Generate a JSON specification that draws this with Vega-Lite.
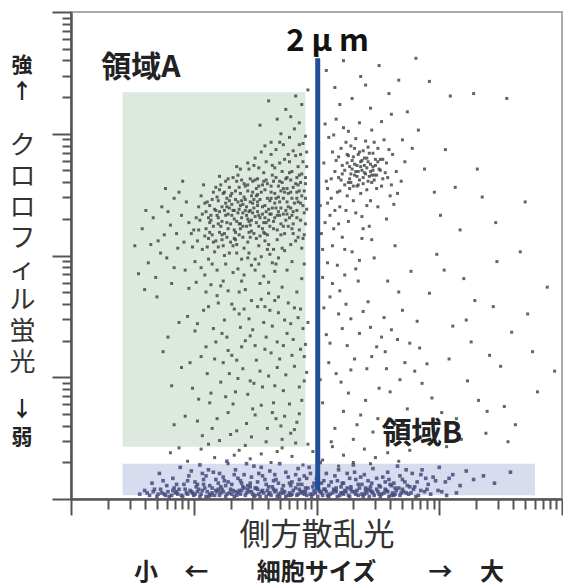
{
  "$schema": "https://vega.github.io/schema/vega-lite/v6.json",
  "width": 491,
  "height": 487,
  "autosize": {"type": "none"},
  "padding": {"left": 71, "top": 12, "right": 1, "bottom": 87},
  "config": {
    "view": {"stroke": "#aaaaaa", "strokeWidth": 2},
    "font": "Noto Sans CJK JP"
  },
  "datasets": {
    "regions": [
      {"region": "A", "x": 0.42, "x2": 1.91, "y": 0.43, "y2": 3.34},
      {"region": "B", "x": 0.42, "x2": 3.78, "y": 0.03, "y2": 0.29}
    ],
    "gate": [{"x": 2.01, "y": 0.07, "y2": 3.62}],
    "regionLabels": [
      {"label": "領域A", "x": 0.57, "y": 3.54},
      {"label": "領域B", "x": 2.86, "y": 0.53}
    ],
    "sizeLabel": [{"label": "2 μ m", "x": 2.09, "y": 3.75}],
    "yHints": [
      {"label": "強", "x": -0.4, "y": 3.56},
      {"label": "↑", "x": -0.4, "y": 3.34},
      {"label": "↓", "x": -0.4, "y": 0.73},
      {"label": "弱", "x": -0.4, "y": 0.5}
    ],
    "xHints": [
      {"label": "小", "x": 0.61, "y": -0.61},
      {"label": "←", "x": 1.02, "y": -0.61},
      {"label": "細胞サイズ", "x": 2.0, "y": -0.61},
      {"label": "→", "x": 3.01, "y": -0.61},
      {"label": "大", "x": 3.43, "y": -0.61}
    ],
    "cells": [
      {"x":1.02,"y":2.31},{"x":1.11,"y":2.44},{"x":1.18,"y":2.12},{"x":1.25,"y":2.37},{"x":1.33,"y":2.21},{"x":1.41,"y":2.48},{"x":1.47,"y":2.29},{"x":1.52,"y":2.63},{"x":1.58,"y":2.41},{"x":1.66,"y":2.72},
      {"x":1.73,"y":2.55},{"x":1.81,"y":2.86},{"x":1.88,"y":2.67},{"x":1.07,"y":2.05},{"x":1.15,"y":1.93},{"x":1.22,"y":2.58},{"x":1.29,"y":2.02},{"x":1.36,"y":2.66},{"x":1.44,"y":2.11},{"x":1.50,"y":1.88},
      {"x":1.57,"y":2.19},{"x":1.63,"y":2.34},{"x":1.70,"y":2.93},{"x":1.77,"y":2.24},{"x":1.84,"y":2.47},{"x":1.91,"y":2.98},{"x":0.98,"y":2.18},{"x":1.04,"y":2.40},{"x":1.13,"y":2.27},{"x":1.20,"y":2.45},
      {"x":1.27,"y":2.15},{"x":1.34,"y":2.53},{"x":1.39,"y":1.97},{"x":1.46,"y":2.37},{"x":1.53,"y":2.08},{"x":1.60,"y":2.59},{"x":1.68,"y":2.13},{"x":1.74,"y":2.79},{"x":1.80,"y":2.33},{"x":1.86,"y":2.91},
      {"x":1.09,"y":1.84},{"x":1.16,"y":2.52},{"x":1.24,"y":1.79},{"x":1.31,"y":2.42},{"x":1.38,"y":2.26},{"x":1.45,"y":2.71},{"x":1.49,"y":2.18},{"x":1.55,"y":2.85},{"x":1.62,"y":2.01},{"x":1.69,"y":2.48},
      {"x":1.76,"y":2.64},{"x":1.83,"y":2.12},{"x":1.89,"y":2.41},{"x":0.96,"y":2.27},{"x":1.01,"y":1.95},{"x":1.06,"y":2.49},{"x":1.12,"y":2.14},{"x":1.19,"y":2.33},{"x":1.26,"y":2.61},{"x":1.32,"y":1.86},
      {"x":1.37,"y":2.38},{"x":1.43,"y":2.24},{"x":1.48,"y":2.52},{"x":1.54,"y":2.31},{"x":1.59,"y":2.77},{"x":1.65,"y":2.22},{"x":1.71,"y":2.39},{"x":1.78,"y":2.97},{"x":1.85,"y":2.58},{"x":1.90,"y":2.17},
      {"x":1.03,"y":2.12},{"x":1.10,"y":2.36},{"x":1.17,"y":2.03},{"x":1.23,"y":2.28},{"x":1.30,"y":2.49},{"x":1.35,"y":2.09},{"x":1.42,"y":2.57},{"x":1.47,"y":1.92},{"x":1.54,"y":2.46},{"x":1.61,"y":2.29},
      {"x":1.67,"y":2.87},{"x":1.72,"y":2.06},{"x":1.79,"y":2.52},{"x":1.87,"y":2.29},{"x":1.92,"y":2.73},{"x":1.00,"y":2.21},{"x":1.08,"y":2.58},{"x":1.14,"y":1.76},{"x":1.21,"y":2.19},{"x":1.28,"y":2.34},
      {"x":1.35,"y":2.73},{"x":1.40,"y":2.15},{"x":1.46,"y":2.44},{"x":1.51,"y":2.27},{"x":1.57,"y":2.68},{"x":1.64,"y":1.94},{"x":1.70,"y":2.61},{"x":1.75,"y":2.37},{"x":1.82,"y":3.04},{"x":1.88,"y":2.06},
      {"x":1.13,"y":2.41},{"x":1.19,"y":1.88},{"x":1.27,"y":2.47},{"x":1.33,"y":2.30},{"x":1.39,"y":2.62},{"x":1.45,"y":2.02},{"x":1.52,"y":2.36},{"x":1.58,"y":2.12},{"x":1.64,"y":2.66},{"x":1.71,"y":2.26},
      {"x":1.77,"y":2.83},{"x":1.84,"y":2.37},{"x":1.90,"y":2.53},{"x":1.05,"y":2.29},{"x":1.11,"y":2.07},{"x":1.18,"y":2.56},{"x":1.24,"y":2.08},{"x":1.30,"y":2.26},{"x":1.37,"y":2.17},{"x":1.43,"y":2.33},
      {"x":1.49,"y":2.74},{"x":1.55,"y":1.99},{"x":1.62,"y":2.45},{"x":1.68,"y":2.33},{"x":1.74,"y":2.18},{"x":1.80,"y":2.69},{"x":1.87,"y":2.83},{"x":1.26,"y":1.93},{"x":1.32,"y":2.64},{"x":1.41,"y":1.84},
      {"x":1.48,"y":2.61},{"x":1.56,"y":2.22},{"x":1.63,"y":2.83},{"x":1.69,"y":1.98},{"x":1.76,"y":2.44},{"x":1.83,"y":2.59},{"x":1.91,"y":2.26},{"x":1.20,"y":2.31},{"x":1.29,"y":2.56},{"x":1.36,"y":2.44},
      {"x":1.44,"y":2.53},{"x":1.51,"y":2.14},{"x":1.59,"y":2.36},{"x":1.66,"y":2.51},{"x":1.73,"y":2.91},{"x":1.81,"y":2.18},{"x":1.86,"y":3.09},{"x":1.16,"y":2.24},{"x":1.23,"y":2.40},{"x":1.34,"y":2.13},
      {"x":1.40,"y":2.35},{"x":1.47,"y":2.20},{"x":1.53,"y":2.72},{"x":1.60,"y":2.17},{"x":1.67,"y":2.39},{"x":1.73,"y":2.47},{"x":1.79,"y":2.09},{"x":1.85,"y":2.73},{"x":1.92,"y":2.38},{"x":1.09,"y":2.16},
      {"x":0.99,"y":2.07},{"x":1.06,"y":1.90},{"x":1.14,"y":2.33},{"x":1.21,"y":2.65},{"x":1.38,"y":2.51},{"x":1.45,"y":2.28},{"x":1.56,"y":2.58},{"x":1.65,"y":2.05},{"x":1.78,"y":2.31},{"x":1.89,"y":2.92},
      {"x":1.28,"y":1.71},{"x":1.36,"y":1.89},{"x":1.42,"y":1.72},{"x":1.50,"y":1.97},{"x":1.57,"y":1.83},{"x":1.66,"y":1.87},{"x":1.72,"y":1.74},{"x":1.80,"y":1.95},{"x":1.88,"y":1.81},{"x":1.61,"y":1.69},
      {"x":1.12,"y":1.97},{"x":1.25,"y":2.00},{"x":1.19,"y":1.67},{"x":1.31,"y":1.60},{"x":1.47,"y":1.63},{"x":1.54,"y":1.77},{"x":1.69,"y":1.66},{"x":1.84,"y":1.70},{"x":1.90,"y":1.93},{"x":1.76,"y":1.88},
      {"x":1.02,"y":1.78},{"x":1.10,"y":1.70},{"x":1.39,"y":1.79},{"x":1.58,"y":1.58},{"x":1.82,"y":1.57},{"x":1.71,"y":3.00},{"x":1.63,"y":2.93},{"x":1.58,"y":2.90},{"x":1.50,"y":2.80},{"x":1.44,"y":2.76},
      {"x":1.14,"y":2.29},{"x":1.19,"y":2.48},{"x":1.23,"y":2.17},{"x":1.26,"y":2.33},{"x":1.31,"y":2.51},{"x":1.34,"y":2.19},{"x":1.38,"y":2.41},{"x":1.41,"y":2.06},{"x":1.44,"y":2.58},{"x":1.48,"y":2.35},
      {"x":1.51,"y":2.49},{"x":1.54,"y":2.16},{"x":1.58,"y":2.54},{"x":1.61,"y":2.38},{"x":1.65,"y":2.61},{"x":1.68,"y":2.21},{"x":1.72,"y":2.69},{"x":1.75,"y":2.29},{"x":1.79,"y":2.62},{"x":1.82,"y":2.43},
      {"x":1.86,"y":2.21},{"x":1.89,"y":2.77},{"x":1.27,"y":2.40},{"x":1.33,"y":2.37},{"x":1.39,"y":2.31},{"x":1.46,"y":2.63},{"x":1.52,"y":2.44},{"x":1.57,"y":2.27},{"x":1.63,"y":2.57},{"x":1.70,"y":2.44},
      {"x":1.77,"y":2.51},{"x":1.84,"y":2.64},{"x":1.91,"y":2.47},{"x":1.22,"y":2.24},{"x":1.29,"y":2.45},{"x":1.35,"y":2.28},{"x":1.42,"y":2.46},{"x":1.49,"y":2.39},{"x":1.55,"y":2.52},{"x":1.62,"y":2.24},
      {"x":1.69,"y":2.57},{"x":1.76,"y":2.34},{"x":1.83,"y":2.82},{"x":1.90,"y":2.35},{"x":1.17,"y":2.38},{"x":1.24,"y":2.51},{"x":1.30,"y":2.11},{"x":1.37,"y":2.56},{"x":1.43,"y":2.40},{"x":1.50,"y":2.62},
      {"x":1.56,"y":2.34},{"x":1.63,"y":2.47},{"x":1.70,"y":2.76},{"x":1.77,"y":2.40},{"x":1.84,"y":2.52},{"x":1.10,"y":2.22},{"x":1.15,"y":2.46},{"x":1.21,"y":2.36},{"x":1.28,"y":2.22},{"x":1.34,"y":2.46},
      {"x":1.40,"y":2.24},{"x":1.47,"y":2.49},{"x":1.53,"y":2.24},{"x":1.60,"y":2.47},{"x":1.66,"y":2.31},{"x":1.73,"y":2.34},{"x":1.80,"y":2.47},{"x":1.87,"y":2.60},{"x":1.25,"y":2.18},{"x":1.32,"y":2.37},
      {"x":1.38,"y":2.71},{"x":1.45,"y":2.36},{"x":1.51,"y":2.55},{"x":1.58,"y":2.31},{"x":1.64,"y":2.74},{"x":1.71,"y":2.53},{"x":1.78,"y":2.68},{"x":1.85,"y":2.44},{"x":1.91,"y":2.64},{"x":1.07,"y":2.34},
      {"x":1.13,"y":2.19},{"x":1.20,"y":2.07},{"x":1.26,"y":2.43},{"x":1.33,"y":2.14},{"x":1.39,"y":2.45},{"x":1.46,"y":2.15},{"x":1.52,"y":2.41},{"x":1.59,"y":2.62},{"x":1.66,"y":2.43},{"x":1.72,"y":2.60},
      {"x":1.79,"y":2.39},{"x":1.86,"y":2.53},{"x":1.44,"y":1.98},{"x":1.53,"y":1.93},{"x":1.61,"y":2.09},{"x":1.67,"y":1.93},{"x":1.74,"y":2.04},{"x":1.81,"y":2.26},{"x":1.89,"y":2.14},{"x":1.35,"y":2.02},
      {"x":1.04,"y":2.21},{"x":1.09,"y":2.43},{"x":1.16,"y":2.11},{"x":1.21,"y":2.54},{"x":1.27,"y":2.27},{"x":1.32,"y":2.08},{"x":1.36,"y":2.35},{"x":1.41,"y":2.59},{"x":1.45,"y":2.19},{"x":1.49,"y":2.46},
      {"x":1.53,"y":2.33},{"x":1.57,"y":2.61},{"x":1.60,"y":2.05},{"x":1.64,"y":2.39},{"x":1.67,"y":2.64},{"x":1.71,"y":2.17},{"x":1.74,"y":2.52},{"x":1.78,"y":2.77},{"x":1.81,"y":2.36},{"x":1.85,"y":2.15},
      {"x":1.88,"y":2.49},{"x":1.92,"y":2.85},{"x":1.18,"y":2.37},{"x":1.23,"y":2.13},{"x":1.29,"y":2.39},{"x":1.35,"y":2.61},{"x":1.40,"y":2.42},{"x":1.46,"y":2.25},{"x":1.52,"y":2.50},{"x":1.58,"y":2.18},
      {"x":1.63,"y":2.52},{"x":1.69,"y":2.36},{"x":1.75,"y":2.63},{"x":1.80,"y":2.22},{"x":1.86,"y":2.66},{"x":1.12,"y":2.31},{"x":1.20,"y":2.26},{"x":1.31,"y":2.33},{"x":1.42,"y":2.37},{"x":1.53,"y":2.57},
      {"x":1.65,"y":2.28},{"x":1.76,"y":2.55},{"x":1.87,"y":2.43},{"x":1.25,"y":2.52},{"x":1.37,"y":2.26},{"x":1.48,"y":2.43},{"x":1.59,"y":2.27},{"x":1.70,"y":2.33},{"x":1.81,"y":2.56},{"x":1.91,"y":2.59},
      {"x":1.15,"y":2.17},{"x":1.28,"y":2.63},{"x":1.44,"y":2.30},{"x":1.56,"y":2.40},{"x":1.67,"y":2.47},{"x":1.73,"y":2.24},{"x":1.84,"y":2.31},{"x":1.62,"y":2.34},{"x":1.50,"y":2.32},{"x":1.38,"y":2.22},
      {"x":0.52,"y":2.08},{"x":0.58,"y":2.22},{"x":0.63,"y":1.94},{"x":0.67,"y":2.31},{"x":0.71,"y":2.12},{"x":0.74,"y":2.40},{"x":0.78,"y":1.98},{"x":0.81,"y":2.25},{"x":0.84,"y":2.47},{"x":0.87,"y":2.06},
      {"x":0.90,"y":2.33},{"x":0.93,"y":1.88},{"x":0.69,"y":1.82},{"x":0.76,"y":2.17},{"x":0.82,"y":1.77},{"x":0.88,"y":2.52},{"x":0.61,"y":2.37},{"x":0.55,"y":1.85},{"x":0.73,"y":2.02},{"x":0.86,"y":2.18},
      {"x":0.92,"y":2.11},{"x":0.79,"y":2.36},{"x":0.65,"y":2.09},{"x":0.91,"y":2.61},{"x":0.84,"y":1.90},{"x":0.96,"y":1.73},{"x":0.70,"y":1.66},{"x":0.94,"y":2.44},{"x":0.77,"y":2.55},{"x":0.60,"y":1.72},
      {"x":0.75,"y":1.21},{"x":0.82,"y":0.93},{"x":0.88,"y":1.45},{"x":0.93,"y":0.68},{"x":0.97,"y":1.12},{"x":1.01,"y":1.38},{"x":1.04,"y":0.82},{"x":1.08,"y":1.55},{"x":1.11,"y":1.03},{"x":1.15,"y":0.58},
      {"x":1.18,"y":1.29},{"x":1.22,"y":0.96},{"x":1.25,"y":1.47},{"x":1.28,"y":0.71},{"x":1.31,"y":1.18},{"x":1.34,"y":0.88},{"x":1.37,"y":1.52},{"x":1.40,"y":1.07},{"x":1.43,"y":0.62},{"x":1.46,"y":1.34},
      {"x":1.49,"y":0.95},{"x":1.52,"y":1.58},{"x":1.55,"y":0.77},{"x":1.58,"y":1.23},{"x":1.61,"y":1.01},{"x":1.64,"y":1.42},{"x":1.67,"y":0.66},{"x":1.70,"y":1.15},{"x":1.73,"y":0.89},{"x":1.76,"y":1.36},
      {"x":1.79,"y":0.54},{"x":1.82,"y":1.09},{"x":1.85,"y":1.49},{"x":1.88,"y":0.81},{"x":1.91,"y":1.27},{"x":1.20,"y":1.61},{"x":1.27,"y":1.33},{"x":1.33,"y":1.56},{"x":1.39,"y":1.25},{"x":1.45,"y":1.48},
      {"x":1.51,"y":1.14},{"x":1.57,"y":1.45},{"x":1.63,"y":1.20},{"x":1.69,"y":1.53},{"x":1.75,"y":1.02},{"x":1.81,"y":1.31},{"x":1.87,"y":1.56},{"x":1.92,"y":1.04},{"x":1.16,"y":1.40},{"x":1.24,"y":1.12},
      {"x":1.30,"y":0.53},{"x":1.36,"y":0.99},{"x":1.42,"y":1.30},{"x":1.48,"y":0.74},{"x":1.54,"y":1.05},{"x":1.60,"y":0.58},{"x":1.66,"y":0.93},{"x":1.72,"y":0.49},{"x":1.78,"y":0.78},{"x":1.84,"y":0.63},
      {"x":1.90,"y":0.97},{"x":1.13,"y":0.79},{"x":1.07,"y":0.52},{"x":0.99,"y":0.91},{"x":0.90,"y":1.08},{"x":0.84,"y":0.61},{"x":0.79,"y":1.33},{"x":1.21,"y":0.48},{"x":1.35,"y":0.56},{"x":1.47,"y":0.51},
      {"x":1.59,"y":0.47},{"x":1.71,"y":0.60},{"x":1.83,"y":0.46},{"x":1.89,"y":1.40},{"x":1.62,"y":1.55},{"x":1.50,"y":1.26},{"x":1.38,"y":1.41},{"x":1.26,"y":0.84},{"x":1.17,"y":1.15},{"x":1.44,"y":0.86},
      {"x":1.56,"y":0.92},{"x":1.68,"y":1.29},{"x":1.80,"y":1.18},{"x":1.86,"y":0.70},{"x":1.74,"y":1.47},{"x":1.10,"y":1.25},{"x":1.03,"y":0.64},{"x":0.95,"y":1.50},{"x":1.29,"y":1.03},{"x":1.65,"y":0.79},
      {"x":1.06,"y":1.17},{"x":1.14,"y":0.87},{"x":1.23,"y":1.36},{"x":1.32,"y":0.78},{"x":1.41,"y":1.56},{"x":1.50,"y":0.69},{"x":1.59,"y":1.33},{"x":1.68,"y":1.08},{"x":1.77,"y":1.61},{"x":1.86,"y":0.92},
      {"x":1.93,"y":1.45},{"x":1.19,"y":0.66},{"x":1.28,"y":1.22},{"x":1.37,"y":1.70},{"x":1.46,"y":0.97},{"x":1.55,"y":1.64},{"x":1.64,"y":0.71},{"x":1.73,"y":1.26},{"x":1.82,"y":0.57},{"x":1.90,"y":1.17},
      {"x":1.03,"y":1.44},{"x":1.12,"y":1.58},{"x":1.22,"y":1.75},{"x":1.35,"y":1.14},{"x":1.48,"y":1.39},{"x":1.61,"y":1.78},{"x":1.74,"y":0.68},{"x":1.87,"y":1.23},{"x":1.79,"y":1.44},{"x":1.66,"y":1.63},
      {"x":0.81,"y":0.38},{"x":0.95,"y":0.31},{"x":1.06,"y":0.41},{"x":1.17,"y":0.34},{"x":1.28,"y":0.29},{"x":1.37,"y":0.40},{"x":1.46,"y":0.33},{"x":1.55,"y":0.37},{"x":1.63,"y":0.30},{"x":1.72,"y":0.42},
      {"x":1.80,"y":0.35},{"x":1.89,"y":0.28},{"x":1.97,"y":0.39},{"x":2.05,"y":0.32},{"x":2.13,"y":0.43},{"x":2.22,"y":0.36},{"x":2.30,"y":0.30},{"x":2.39,"y":0.41},{"x":2.48,"y":0.34},{"x":2.58,"y":0.38},
      {"x":2.67,"y":0.31},{"x":2.76,"y":0.40},{"x":1.12,"y":0.45},{"x":1.42,"y":0.44},{"x":1.68,"y":0.39},{"x":1.93,"y":0.45},{"x":2.18,"y":0.27},{"x":2.44,"y":0.29},{"x":0.88,"y":0.42},{"x":1.33,"y":0.36},
      {"x":2.08,"y":2.61},{"x":2.13,"y":2.85},{"x":2.17,"y":2.52},{"x":2.21,"y":2.74},{"x":2.24,"y":2.93},{"x":2.27,"y":2.63},{"x":2.30,"y":2.81},{"x":2.33,"y":2.57},{"x":2.36,"y":2.77},{"x":2.39,"y":2.68},
      {"x":2.42,"y":2.89},{"x":2.45,"y":2.60},{"x":2.48,"y":2.79},{"x":2.51,"y":2.71},{"x":2.55,"y":2.95},{"x":2.58,"y":2.64},{"x":2.62,"y":2.83},{"x":2.10,"y":2.97},{"x":2.15,"y":2.69},{"x":2.19,"y":2.40},
      {"x":2.23,"y":2.58},{"x":2.26,"y":2.82},{"x":2.29,"y":2.71},{"x":2.32,"y":2.96},{"x":2.35,"y":2.62},{"x":2.38,"y":2.86},{"x":2.41,"y":2.54},{"x":2.44,"y":2.75},{"x":2.47,"y":2.66},{"x":2.50,"y":2.88},
      {"x":2.53,"y":2.57},{"x":2.57,"y":2.76},{"x":2.60,"y":2.49},{"x":2.65,"y":2.69},{"x":2.12,"y":2.47},{"x":2.16,"y":2.78},{"x":2.20,"y":2.88},{"x":2.25,"y":2.49},{"x":2.28,"y":2.90},{"x":2.31,"y":2.66},
      {"x":2.34,"y":2.83},{"x":2.37,"y":2.70},{"x":2.40,"y":2.94},{"x":2.43,"y":2.65},{"x":2.46,"y":2.84},{"x":2.49,"y":2.55},{"x":2.52,"y":2.79},{"x":2.56,"y":2.68},{"x":2.61,"y":2.58},{"x":2.06,"y":2.76},
      {"x":2.09,"y":2.43},{"x":2.14,"y":2.99},{"x":2.18,"y":2.64},{"x":2.22,"y":3.05},{"x":2.27,"y":2.55},{"x":2.33,"y":2.74},{"x":2.36,"y":2.51},{"x":2.39,"y":2.80},{"x":2.44,"y":2.45},{"x":2.47,"y":2.93},
      {"x":2.54,"y":2.63},{"x":2.59,"y":2.87},{"x":2.66,"y":2.51},{"x":2.11,"y":2.33},{"x":2.18,"y":2.26},{"x":2.24,"y":2.37},{"x":2.30,"y":2.45},{"x":2.37,"y":2.32},{"x":2.43,"y":2.24},{"x":2.50,"y":2.40},
      {"x":2.57,"y":2.30},{"x":2.63,"y":2.42},{"x":2.69,"y":2.61},{"x":2.72,"y":2.77},{"x":2.07,"y":3.08},{"x":2.16,"y":3.12},{"x":2.26,"y":3.02},{"x":2.35,"y":3.09},{"x":2.45,"y":3.03},{"x":2.53,"y":3.10},
      {"x":2.31,"y":2.88},{"x":2.41,"y":2.72},{"x":2.28,"y":2.60},{"x":2.38,"y":2.59},{"x":2.46,"y":2.70},{"x":2.21,"y":2.67},{"x":2.34,"y":2.69},{"x":2.42,"y":2.61},{"x":2.25,"y":2.76},{"x":2.48,"y":2.74},
      {"x":2.23,"y":2.70},{"x":2.26,"y":2.60},{"x":2.29,"y":2.78},{"x":2.32,"y":2.69},{"x":2.35,"y":2.85},{"x":2.38,"y":2.64},{"x":2.41,"y":2.80},{"x":2.44,"y":2.69},{"x":2.47,"y":2.62},{"x":2.50,"y":2.77},
      {"x":2.25,"y":2.83},{"x":2.28,"y":2.67},{"x":2.31,"y":2.75},{"x":2.34,"y":2.58},{"x":2.37,"y":2.78},{"x":2.40,"y":2.67},{"x":2.43,"y":2.84},{"x":2.46,"y":2.73},{"x":2.49,"y":2.66},{"x":2.52,"y":2.70},
      {"x":2.20,"y":2.62},{"x":2.36,"y":2.73},{"x":2.33,"y":2.65},{"x":2.39,"y":2.74},{"x":2.30,"y":2.57},{"x":2.42,"y":2.77},{"x":2.27,"y":2.73},{"x":2.45,"y":2.66},{"x":2.18,"y":2.81},{"x":2.54,"y":2.79},
      {"x":2.03,"y":2.41},{"x":2.05,"y":1.82},{"x":2.07,"y":2.27},{"x":2.09,"y":2.55},{"x":2.11,"y":1.66},{"x":2.13,"y":2.08},{"x":2.15,"y":2.37},{"x":2.17,"y":1.92},{"x":2.19,"y":2.53},{"x":2.21,"y":2.15},
      {"x":2.23,"y":1.84},{"x":2.26,"y":2.28},{"x":2.29,"y":2.03},{"x":2.32,"y":2.35},{"x":2.35,"y":1.96},{"x":2.38,"y":2.22},{"x":2.41,"y":2.41},{"x":2.45,"y":2.13},{"x":2.05,"y":2.05},{"x":2.12,"y":2.63},
      {"x":2.08,"y":3.52},{"x":2.15,"y":3.38},{"x":2.22,"y":3.60},{"x":2.29,"y":3.29},{"x":2.36,"y":3.47},{"x":2.44,"y":3.21},{"x":2.51,"y":3.56},{"x":2.59,"y":3.33},{"x":2.67,"y":3.44},{"x":2.74,"y":3.18},
      {"x":2.81,"y":3.62},{"x":2.61,"y":3.16},{"x":2.19,"y":3.24},{"x":2.40,"y":3.40},{"x":2.83,"y":3.03},{"x":2.78,"y":2.88},{"x":2.70,"y":2.95},{"x":2.88,"y":2.71},{"x":3.09,"y":3.31},{"x":3.28,"y":3.33},
      {"x":3.55,"y":3.29},{"x":3.05,"y":2.87},{"x":2.96,"y":2.52},{"x":3.01,"y":2.33},{"x":2.92,"y":3.43},
      {"x":2.04,"y":2.18},{"x":2.09,"y":1.94},{"x":2.14,"y":2.22},{"x":2.19,"y":1.71},{"x":2.23,"y":2.05},{"x":2.28,"y":1.48},{"x":2.32,"y":1.89},{"x":2.37,"y":2.14},{"x":2.42,"y":1.62},{"x":2.47,"y":1.98},
      {"x":2.53,"y":1.33},{"x":2.58,"y":1.79},{"x":2.64,"y":2.08},{"x":2.70,"y":1.55},{"x":2.77,"y":1.87},{"x":2.84,"y":1.24},{"x":2.92,"y":1.69},{"x":2.98,"y":2.01},{"x":2.06,"y":1.57},{"x":2.11,"y":1.28},
      {"x":2.16,"y":1.03},{"x":2.21,"y":1.40},{"x":2.26,"y":0.87},{"x":2.31,"y":1.15},{"x":2.36,"y":0.69},{"x":2.41,"y":1.07},{"x":2.46,"y":0.55},{"x":2.51,"y":0.91},{"x":2.56,"y":1.21},{"x":2.62,"y":0.63},
      {"x":2.68,"y":0.98},{"x":2.74,"y":0.74},{"x":2.80,"y":1.05},{"x":2.87,"y":0.52},{"x":2.94,"y":0.83},{"x":2.05,"y":0.79},{"x":2.10,"y":1.12},{"x":2.15,"y":0.58},{"x":2.20,"y":0.96},{"x":2.25,"y":1.26},
      {"x":2.30,"y":0.49},{"x":2.35,"y":1.36},{"x":2.40,"y":0.81},{"x":2.45,"y":1.17},{"x":2.50,"y":0.66},{"x":2.55,"y":1.49},{"x":2.60,"y":0.88},{"x":2.66,"y":1.31},{"x":2.72,"y":1.12},{"x":2.79,"y":0.59},
      {"x":2.86,"y":0.95},{"x":2.13,"y":1.77},{"x":2.24,"y":1.60},{"x":2.34,"y":1.79},{"x":2.44,"y":1.41},{"x":2.57,"y":1.07},{"x":2.67,"y":1.70},{"x":2.82,"y":1.46},{"x":2.08,"y":1.35},{"x":2.18,"y":1.52},
      {"x":2.28,"y":1.06},{"x":2.38,"y":1.54},{"x":2.49,"y":1.25},{"x":2.61,"y":1.39},{"x":2.76,"y":1.28},{"x":2.90,"y":1.11},{"x":2.03,"y":0.98},{"x":2.12,"y":0.47},{"x":2.22,"y":0.72},{"x":2.33,"y":0.61},
      {"x":3.04,"y":1.88},{"x":3.11,"y":1.42},{"x":3.17,"y":2.21},{"x":3.23,"y":0.97},{"x":3.29,"y":1.63},{"x":3.35,"y":2.48},{"x":3.41,"y":1.18},{"x":3.47,"y":1.95},{"x":3.53,"y":0.76},{"x":3.59,"y":1.37},
      {"x":3.66,"y":2.03},{"x":3.72,"y":1.52},{"x":3.80,"y":0.88},{"x":3.88,"y":1.74},{"x":3.14,"y":0.66},{"x":3.26,"y":1.29},{"x":3.38,"y":0.54},{"x":3.50,"y":1.09},{"x":3.62,"y":0.61},{"x":3.08,"y":1.15},
      {"x":3.20,"y":1.81},{"x":3.32,"y":0.81},{"x":3.44,"y":1.58},{"x":3.02,"y":0.71},{"x":3.13,"y":2.56},{"x":3.46,"y":2.27},{"x":3.70,"y":2.44},{"x":3.56,"y":0.47},{"x":3.94,"y":1.05},{"x":3.06,"y":0.43},
      {"x":3.18,"y":0.49},{"x":3.31,"y":2.71},{"x":3.76,"y":1.21},{"x":3.39,"y":0.72},{"x":3.22,"y":1.47},
      {"x":1.61,"y":3.27},{"x":1.75,"y":3.20},{"x":1.83,"y":3.31},{"x":1.54,"y":3.07},{"x":1.88,"y":3.24},{"x":1.68,"y":3.12},{"x":1.79,"y":3.14},{"x":1.93,"y":3.36}
    ],
    "lowCells": [
      {"x":0.56,"y":0.04},{"x":0.60,"y":0.07},{"x":0.64,"y":0.03},{"x":0.67,"y":0.06},{"x":0.70,"y":0.02},{"x":0.73,"y":0.08},{"x":0.76,"y":0.04},{"x":0.79,"y":0.06},{"x":0.82,"y":0.03},{"x":0.85,"y":0.05},
      {"x":0.88,"y":0.08},{"x":0.91,"y":0.02},{"x":0.94,"y":0.05},{"x":0.97,"y":0.07},{"x":1.00,"y":0.03},{"x":1.03,"y":0.06},{"x":1.06,"y":0.04},{"x":1.09,"y":0.09},{"x":1.12,"y":0.02},{"x":1.15,"y":0.05},
      {"x":1.18,"y":0.07},{"x":1.21,"y":0.03},{"x":1.24,"y":0.06},{"x":1.27,"y":0.04},{"x":1.30,"y":0.08},{"x":1.33,"y":0.02},{"x":1.36,"y":0.05},{"x":1.39,"y":0.07},{"x":1.42,"y":0.03},{"x":1.45,"y":0.06},
      {"x":1.48,"y":0.04},{"x":1.51,"y":0.09},{"x":1.54,"y":0.02},{"x":1.57,"y":0.05},{"x":1.60,"y":0.07},{"x":1.63,"y":0.03},{"x":1.66,"y":0.06},{"x":1.69,"y":0.04},{"x":1.72,"y":0.08},{"x":1.75,"y":0.02},
      {"x":1.78,"y":0.05},{"x":1.81,"y":0.07},{"x":1.84,"y":0.03},{"x":1.87,"y":0.06},{"x":1.90,"y":0.04},{"x":1.93,"y":0.09},{"x":1.96,"y":0.02},{"x":1.99,"y":0.05},{"x":2.02,"y":0.07},{"x":2.05,"y":0.03},
      {"x":2.08,"y":0.06},{"x":2.11,"y":0.04},{"x":2.14,"y":0.08},{"x":2.17,"y":0.02},{"x":2.20,"y":0.05},{"x":2.23,"y":0.07},{"x":2.26,"y":0.03},{"x":2.29,"y":0.06},{"x":2.32,"y":0.04},{"x":2.35,"y":0.09},
      {"x":2.38,"y":0.02},{"x":2.41,"y":0.05},{"x":2.44,"y":0.07},{"x":2.47,"y":0.03},{"x":2.50,"y":0.06},{"x":2.53,"y":0.04},{"x":2.56,"y":0.08},{"x":2.59,"y":0.02},{"x":2.62,"y":0.05},{"x":2.65,"y":0.07},
      {"x":2.68,"y":0.03},{"x":2.71,"y":0.06},{"x":2.75,"y":0.04},{"x":2.79,"y":0.08},{"x":2.83,"y":0.03},{"x":2.88,"y":0.06},{"x":2.93,"y":0.04},{"x":2.99,"y":0.07},{"x":3.06,"y":0.03},{"x":3.14,"y":0.05},
      {"x":0.62,"y":0.05},{"x":0.71,"y":0.04},{"x":0.80,"y":0.02},{"x":0.87,"y":0.04},{"x":0.93,"y":0.08},{"x":0.99,"y":0.05},{"x":1.05,"y":0.02},{"x":1.11,"y":0.06},{"x":1.17,"y":0.03},{"x":1.23,"y":0.08},
      {"x":1.29,"y":0.05},{"x":1.35,"y":0.03},{"x":1.41,"y":0.09},{"x":1.47,"y":0.06},{"x":1.53,"y":0.04},{"x":1.59,"y":0.02},{"x":1.65,"y":0.08},{"x":1.71,"y":0.05},{"x":1.77,"y":0.03},{"x":1.83,"y":0.09},
      {"x":1.89,"y":0.06},{"x":1.95,"y":0.04},{"x":2.01,"y":0.02},{"x":2.07,"y":0.08},{"x":2.13,"y":0.05},{"x":2.19,"y":0.03},{"x":2.25,"y":0.09},{"x":2.31,"y":0.06},{"x":2.37,"y":0.04},{"x":2.43,"y":0.02},
      {"x":2.49,"y":0.08},{"x":2.55,"y":0.05},{"x":2.61,"y":0.03},{"x":2.67,"y":0.09},{"x":2.73,"y":0.05},{"x":2.81,"y":0.02},{"x":2.90,"y":0.08},{"x":3.02,"y":0.06},{"x":0.84,"y":0.09},{"x":1.02,"y":0.10},
      {"x":0.74,"y":0.05},{"x":0.83,"y":0.07},{"x":0.90,"y":0.03},{"x":0.98,"y":0.06},{"x":1.04,"y":0.08},{"x":1.13,"y":0.04},{"x":1.19,"y":0.06},{"x":1.26,"y":0.02},{"x":1.32,"y":0.07},{"x":1.38,"y":0.04},
      {"x":1.44,"y":0.08},{"x":1.50,"y":0.03},{"x":1.56,"y":0.07},{"x":1.62,"y":0.05},{"x":1.68,"y":0.02},{"x":1.74,"y":0.06},{"x":1.80,"y":0.04},{"x":1.86,"y":0.08},{"x":1.92,"y":0.03},{"x":1.98,"y":0.07},
      {"x":2.04,"y":0.05},{"x":2.10,"y":0.02},{"x":2.16,"y":0.06},{"x":2.22,"y":0.04},{"x":2.28,"y":0.08},{"x":2.34,"y":0.03},{"x":2.40,"y":0.07},{"x":2.46,"y":0.05},{"x":2.52,"y":0.02},{"x":2.58,"y":0.06},
      {"x":2.64,"y":0.04},{"x":2.70,"y":0.08},{"x":2.77,"y":0.05},{"x":2.85,"y":0.07},{"x":0.68,"y":0.08},{"x":1.08,"y":0.12},{"x":1.46,"y":0.10},{"x":1.85,"y":0.12},{"x":2.21,"y":0.13},{"x":2.60,"y":0.12},
      {"x":0.77,"y":0.03},{"x":0.86,"y":0.06},{"x":0.95,"y":0.04},{"x":1.07,"y":0.07},{"x":1.14,"y":0.03},{"x":1.22,"y":0.05},{"x":1.31,"y":0.04},{"x":1.37,"y":0.07},{"x":1.43,"y":0.05},{"x":1.49,"y":0.02},
      {"x":1.55,"y":0.06},{"x":1.61,"y":0.04},{"x":1.67,"y":0.07},{"x":1.73,"y":0.05},{"x":1.79,"y":0.03},{"x":1.85,"y":0.04},{"x":1.91,"y":0.06},{"x":1.97,"y":0.04},{"x":2.03,"y":0.06},{"x":2.09,"y":0.03},
      {"x":2.15,"y":0.07},{"x":2.21,"y":0.05},{"x":2.27,"y":0.02},{"x":2.33,"y":0.07},{"x":2.39,"y":0.04},{"x":2.45,"y":0.06},{"x":2.51,"y":0.04},{"x":2.57,"y":0.07},{"x":2.63,"y":0.03},{"x":2.69,"y":0.05},
      {"x":1.01,"y":0.04},{"x":1.10,"y":0.02},{"x":1.20,"y":0.08},{"x":1.34,"y":0.06},{"x":1.52,"y":0.08},{"x":1.70,"y":0.02},{"x":1.88,"y":0.05},{"x":2.06,"y":0.08},{"x":2.24,"y":0.06},{"x":2.42,"y":0.08},
      {"x":0.95,"y":0.15},{"x":1.12,"y":0.24},{"x":1.25,"y":0.15},{"x":1.39,"y":0.13},{"x":1.53,"y":0.21},{"x":1.65,"y":0.15},{"x":1.78,"y":0.13},{"x":1.90,"y":0.19},{"x":2.04,"y":0.13},{"x":2.17,"y":0.15},
      {"x":2.31,"y":0.22},{"x":2.45,"y":0.13},{"x":2.59,"y":0.16},{"x":2.72,"y":0.14},{"x":2.85,"y":0.20},{"x":3.08,"y":0.17},{"x":1.47,"y":0.18},{"x":2.00,"y":0.17},{"x":2.36,"y":0.18},{"x":1.21,"y":0.21},
      {"x":0.66,"y":0.13},{"x":0.72,"y":0.21},{"x":0.78,"y":0.11},{"x":0.83,"y":0.17},{"x":0.89,"y":0.26},{"x":0.92,"y":0.12},{"x":0.96,"y":0.19},{"x":1.01,"y":0.14},{"x":1.05,"y":0.28},{"x":1.08,"y":0.16},
      {"x":1.13,"y":0.11},{"x":1.16,"y":0.22},{"x":1.20,"y":0.13},{"x":1.24,"y":0.18},{"x":1.27,"y":0.31},{"x":1.31,"y":0.12},{"x":1.34,"y":0.24},{"x":1.38,"y":0.15},{"x":1.41,"y":0.20},{"x":1.44,"y":0.11},
      {"x":1.49,"y":0.27},{"x":1.52,"y":0.14},{"x":1.56,"y":0.19},{"x":1.59,"y":0.12},{"x":1.62,"y":0.23},{"x":1.67,"y":0.16},{"x":1.70,"y":0.29},{"x":1.73,"y":0.11},{"x":1.77,"y":0.18},{"x":1.80,"y":0.14},
      {"x":1.85,"y":0.25},{"x":1.88,"y":0.12},{"x":1.92,"y":0.17},{"x":1.95,"y":0.21},{"x":1.98,"y":0.13},{"x":2.03,"y":0.30},{"x":2.06,"y":0.15},{"x":2.10,"y":0.11},{"x":2.15,"y":0.19},{"x":2.18,"y":0.24},
      {"x":2.22,"y":0.13},{"x":2.27,"y":0.17},{"x":2.30,"y":0.28},{"x":2.34,"y":0.12},{"x":2.39,"y":0.20},{"x":2.42,"y":0.15},{"x":2.46,"y":0.25},{"x":2.51,"y":0.11},{"x":2.54,"y":0.18},{"x":2.58,"y":0.22},
      {"x":2.63,"y":0.13},{"x":2.66,"y":0.27},{"x":2.70,"y":0.16},{"x":2.74,"y":0.11},{"x":2.78,"y":0.21},{"x":2.82,"y":0.14},{"x":2.86,"y":0.24},{"x":2.91,"y":0.12},{"x":2.95,"y":0.18},{"x":3.00,"y":0.26},
      {"x":3.05,"y":0.14},{"x":3.11,"y":0.20},{"x":3.17,"y":0.11},{"x":3.22,"y":0.23},{"x":3.28,"y":0.16},{"x":3.36,"y":0.19},{"x":3.45,"y":0.13},{"x":3.58,"y":0.22},{"x":0.75,"y":0.15},{"x":0.86,"y":0.12},
      {"x":0.98,"y":0.23},{"x":1.10,"y":0.19},{"x":1.22,"y":0.10},{"x":1.36,"y":0.17},{"x":1.46,"y":0.13},{"x":1.55,"y":0.26},{"x":1.64,"y":0.10},{"x":1.75,"y":0.22},{"x":1.86,"y":0.16},{"x":1.97,"y":0.10},
      {"x":2.08,"y":0.21},{"x":2.20,"y":0.10},{"x":2.32,"y":0.16},{"x":2.44,"y":0.10},{"x":2.56,"y":0.14},{"x":2.68,"y":0.19},{"x":2.80,"y":0.10},{"x":2.97,"y":0.15},{"x":1.03,"y":0.12},{"x":1.18,"y":0.16},
      {"x":1.28,"y":0.14},{"x":1.43,"y":0.29},{"x":1.58,"y":0.16},{"x":1.69,"y":0.13},{"x":1.83,"y":0.20},{"x":1.94,"y":0.26},{"x":2.12,"y":0.14},{"x":2.25,"y":0.21},{"x":2.37,"y":0.12},{"x":2.49,"y":0.17},
      {"x":2.61,"y":0.11},{"x":2.73,"y":0.24},{"x":2.89,"y":0.17},{"x":1.15,"y":0.09},{"x":1.26,"y":0.11},{"x":1.40,"y":0.10},{"x":1.50,"y":0.09},{"x":1.61,"y":0.10},{"x":1.79,"y":0.11},{"x":1.91,"y":0.09},
      {"x":2.00,"y":0.11},{"x":2.16,"y":0.09},{"x":2.28,"y":0.10},{"x":2.40,"y":0.09},{"x":2.52,"y":0.10},{"x":2.64,"y":0.09},{"x":2.76,"y":0.10},{"x":1.07,"y":0.21},{"x":1.33,"y":0.20},{"x":1.66,"y":0.20}
    ]
  },
  "encoding": {
    "x": {
      "field": "x",
      "type": "quantitative",
      "scale": {"domain": [0, 4], "nice": false, "zero": false},
      "axis": {
        "values": [0,0.30103,0.47712,0.60206,0.69897,0.77815,0.8451,0.90309,0.95424,1,1.30103,1.47712,1.60206,1.69897,1.77815,1.8451,1.90309,1.95424,2,2.30103,2.47712,2.60206,2.69897,2.77815,2.8451,2.90309,2.95424,3,3.30103,3.47712,3.60206,3.69897,3.77815,3.8451,3.90309,3.95424,4],
        "labels": false,
        "grid": false,
        "domainColor": "#555555",
        "domainWidth": 2.5,
        "tickColor": "#555555",
        "tickWidth": 2,
        "tickSize": {"condition": {"test": "datum.value % 1 === 0", "value": 16}, "value": 10},
        "title": "側方散乱光",
        "titleFont": "Noto Sans CJK JP",
        "titleFontSize": 31,
        "titleFontWeight": "normal",
        "titleColor": "#333333",
        "titlePadding": 4
      }
    },
    "y": {
      "field": "y",
      "type": "quantitative",
      "scale": {"domain": [0, 4], "nice": false, "zero": false},
      "axis": {
        "values": [0,0.30103,0.47712,0.60206,0.69897,0.77815,0.8451,0.90309,0.95424,1,1.30103,1.47712,1.60206,1.69897,1.77815,1.8451,1.90309,1.95424,2,2.30103,2.47712,2.60206,2.69897,2.77815,2.8451,2.90309,2.95424,3,3.30103,3.47712,3.60206,3.69897,3.77815,3.8451,3.90309,3.95424,4],
        "labels": false,
        "grid": false,
        "domainColor": "#555555",
        "domainWidth": 2.5,
        "tickColor": "#555555",
        "tickWidth": 2,
        "tickSize": {"condition": {"test": "datum.value % 1 === 0", "value": 19}, "value": 9},
        "title": ["ク", "ロ", "ロ", "フ", "ィ", "ル", "蛍", "光"],
        "titleFont": "Noto Sans CJK JP",
        "titleFontSize": 26,
        "titleFontWeight": "normal",
        "titleColor": "#333333",
        "titleAngle": 0,
        "titleAlign": "center",
        "titleBaseline": "middle",
        "titleLineHeight": 31,
        "titleX": -49,
        "titleY": 133
      }
    }
  },
  "layer": [
    {
      "data": {"name": "regions"},
      "mark": {"type": "rect"},
      "encoding": {
        "x2": {"field": "x2"},
        "y2": {"field": "y2"},
        "color": {"field": "region", "type": "nominal", "scale": {"domain": ["A", "B"], "range": ["#dde9de", "#d9dcee"]}, "legend": null}
      }
    },
    {
      "data": {"name": "cells"},
      "mark": {"type": "square", "size": 9, "color": "#454b47", "opacity": 0.85}
    },
    {
      "data": {"name": "lowCells"},
      "mark": {"type": "square", "size": 13, "color": "#444b7e", "opacity": 0.85}
    },
    {
      "data": {"name": "gate"},
      "mark": {"type": "rule", "color": "#1f4f99", "strokeWidth": 5},
      "encoding": {"y2": {"field": "y2"}}
    },
    {
      "data": {"name": "regionLabels"},
      "mark": {"type": "text", "font": "Noto Sans CJK JP", "fontWeight": "bold", "fontSize": 30, "color": "#222222"},
      "encoding": {"text": {"field": "label"}}
    },
    {
      "data": {"name": "sizeLabel"},
      "mark": {"type": "text", "font": "Noto Sans CJK JP", "fontWeight": "bold", "fontSize": 31, "color": "#111111"},
      "encoding": {"text": {"field": "label"}}
    },
    {
      "data": {"name": "yHints"},
      "mark": {"type": "text", "font": "Noto Sans CJK JP", "fontWeight": "bold", "fontSize": 21, "color": "#222222"},
      "encoding": {"text": {"field": "label"}}
    },
    {
      "data": {"name": "xHints"},
      "mark": {"type": "text", "font": "Noto Sans CJK JP", "fontWeight": "bold", "fontSize": 24, "color": "#222222"},
      "encoding": {"text": {"field": "label"}}
    }
  ]
}
